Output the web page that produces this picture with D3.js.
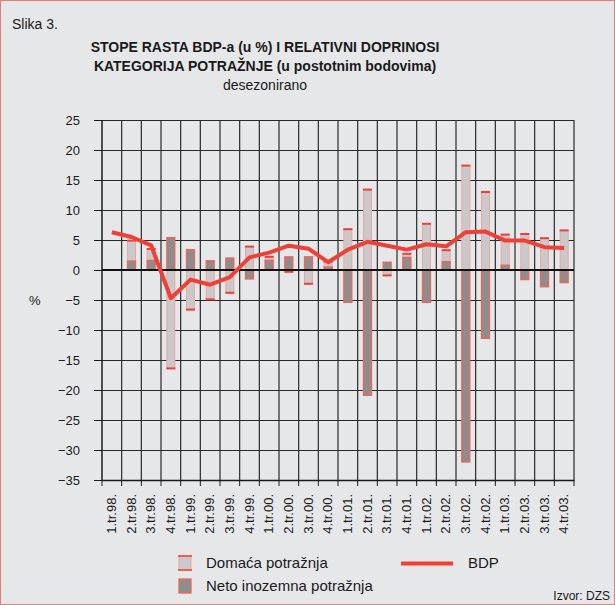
<!DOCTYPE html>
<html>
<head>
<meta charset="utf-8">
<script src="https://cdn.jsdelivr.net/npm/d3@7"></script>
<style>
  body { margin: 0; background: #e6e7e9; }
  svg { display: block; font-family: "Liberation Sans", Arial, sans-serif; }
</style>
</head>
<body>
<div id="chart"></div>
<script>
var quarters = ["1.tr.98.", "2.tr.98.", "3.tr.98.", "4.tr.98.", "1.tr.99.", "2.tr.99.", "3.tr.99.", "4.tr.99.",
  "1.tr.00.", "2.tr.00.", "3.tr.00.", "4.tr.00.", "1.tr.01.", "2.tr.01.", "3.tr.01.", "4.tr.01.",
  "1.tr.02.", "2.tr.02.", "3.tr.02.", "4.tr.02.", "1.tr.03.", "2.tr.03.", "3.tr.03.", "4.tr.03."];
// domaca potraznja (doprinos, p.b.)
var domaca = [null, 4.9, 3.5, -16.4, -6.6, -4.9, -3.8, 3.9, 2.2, -0.3, -2.3, 1.4,
  6.8, 13.4, -0.9, 2.7, 7.7, 3.3, 17.4, 13.0, 5.9, 6.0, 5.3, 6.6];
// neto inozemna potraznja
var neto = [null, 1.5, 1.6, 5.4, 3.4, 1.55, 2.0, -1.5, 1.6, 2.2, 2.2, 0.5,
  -5.4, -20.9, 1.3, 2.1, -5.4, 1.4, -32.0, -11.4, 0.8, -1.6, -2.8, -2.1];
// BDP, stopa rasta (%)
var bdp = [6.3, 5.5, 4.1, -4.7, -1.6, -2.45, -1.2, 2.1, 2.9, 4.05, 3.55, 1.3,
  3.4, 4.7, 4.05, 3.4, 4.3, 3.95, 6.3, 6.4, 4.9, 4.9, 3.8, 3.65];
var yTicks = [25, 20, 15, 10, 5, 0, -5, -10, -15, -20, -25, -30, -35];

var W = 615, H = 605;
var red = "#ee4036", lightFill = "#c9c9cb", darkFill = "#8d8d8d", pink = "#f2a49c";

var svg = d3.select("#chart").append("svg")
  .attr("width", W)
  .attr("height", H);

svg.append("rect")
  .attr("x", 0.5).attr("y", 0.5)
  .attr("width", W - 1).attr("height", H - 1)
  .attr("fill", "#e6e7e9")
  .attr("stroke", "#ea7b72");

var x = d3.scaleBand().domain(quarters).range([102, 574]).padding(0);
var y = d3.scaleLinear().domain([-35, 25]).range([480, 120]);
var bw = 8;

// titles
svg.append("text").attr("x", 12).attr("y", 29)
  .style("font-size", "14px").attr("fill", "#1a1a1a").text("Slika 3.");
var title = svg.append("g").attr("text-anchor", "middle").attr("fill", "#1a1a1a");
title.append("text").attr("x", 265).attr("y", 52)
  .style("font-size", "14px").style("font-weight", "bold")
  .text("STOPE RASTA BDP-a (u %) I RELATIVNI DOPRINOSI");
title.append("text").attr("x", 265).attr("y", 71)
  .style("font-size", "14px").style("font-weight", "bold")
  .text("KATEGORIJA POTRAŽNJE (u postotnim bodovima)");
title.append("text").attr("x", 265).attr("y", 90)
  .style("font-size", "14px")
  .text("desezonirano");

// grid
var grid = svg.append("g").attr("stroke", "#2a2a2a").attr("stroke-width", 1.2);
grid.selectAll("line.h").data(yTicks).enter().append("line")
  .attr("x1", 102).attr("x2", 574)
  .attr("y1", function (d) { return Math.round(y(d)) + 0.5; })
  .attr("y2", function (d) { return Math.round(y(d)) + 0.5; });
grid.selectAll("line.v").data(quarters.slice(1).concat([null])).enter().append("line")
  .attr("x1", function (d, i) { return d ? x(d) : 574; })
  .attr("x2", function (d, i) { return d ? x(d) : 574; })
  .attr("y1", 120).attr("y2", 480);
grid.append("line").attr("x1", 102).attr("x2", 102).attr("y1", 120).attr("y2", 480).attr("stroke-width", 1.6);

// y axis
var yAxis = svg.append("g")
  .attr("transform", "translate(102,0)")
  .call(d3.axisLeft(y).tickValues(yTicks).tickSize(8).tickPadding(14)
    .tickFormat(function (d) { return d < 0 ? "\u2212" + Math.abs(d) : d; }));
yAxis.select(".domain").remove();
yAxis.selectAll("line").attr("stroke", "#1a1a1a");
yAxis.selectAll("text").style("font-size", "13px").attr("fill", "#1a1a1a")
  .attr("font-family", "Liberation Sans, Arial, sans-serif");
svg.append("text").attr("x", 29).attr("y", 305)
  .style("font-size", "13px").attr("fill", "#1a1a1a").text("%");

// x axis
var xAxis = svg.append("g")
  .attr("transform", "translate(0,480)")
  .call(d3.axisBottom(x).tickSize(0).tickPadding(0));
xAxis.select(".domain").attr("stroke", "#1a1a1a").attr("stroke-width", 1.4);
xAxis.selectAll("text")
  .style("font-size", "13px").attr("fill", "#1a1a1a")
  .attr("font-family", "Liberation Sans, Arial, sans-serif")
  .attr("text-anchor", "end")
  .attr("transform", "translate(4,14) rotate(-90)")
  .attr("dy", 0).attr("y", 0).attr("x", 0);
svg.append("g").selectAll("line").data(quarters.concat([null])).enter().append("line")
  .attr("x1", function (d) { return d ? x(d) : 574; })
  .attr("x2", function (d) { return d ? x(d) : 574; })
  .attr("y1", 480).attr("y2", 486)
  .attr("stroke", "#1a1a1a");

// bars: domaca (light), then neto (dark) on top
var bars = svg.append("g");
quarters.forEach(function (q, i) {
  var cx = x(q) + x.bandwidth() / 2;
  var d = domaca[i], n = neto[i];
  if (d !== null) {
    bars.append("rect")
      .attr("x", cx - bw / 2).attr("width", bw)
      .attr("y", Math.min(y(d), y(0))).attr("height", Math.abs(y(d) - y(0)))
      .attr("fill", lightFill).attr("stroke", pink).attr("stroke-width", 1);
    bars.append("line")
      .attr("x1", cx - bw / 2 - 0.5).attr("x2", cx + bw / 2 + 0.5)
      .attr("y1", y(d)).attr("y2", y(d))
      .attr("stroke", red).attr("stroke-width", 2);
  }
  if (n !== null) {
    bars.append("rect")
      .attr("x", cx - bw / 2).attr("width", bw)
      .attr("y", Math.min(y(n), y(0))).attr("height", Math.abs(y(n) - y(0)))
      .attr("fill", darkFill).attr("stroke", "#f0645a").attr("stroke-width", 1.3);
  }
});

// zero line
svg.append("line").attr("x1", 102).attr("x2", 574)
  .attr("y1", y(0)).attr("y2", y(0))
  .attr("stroke", "#111").attr("stroke-width", 2.2);

// BDP line
var line = d3.line()
  .x(function (d, i) { return x(quarters[i]) + x.bandwidth() / 2; })
  .y(function (d) { return y(d); });
svg.append("path").datum(bdp)
  .attr("d", line)
  .attr("fill", "none")
  .attr("stroke", red)
  .attr("stroke-width", 4)
  .attr("stroke-linejoin", "round");

// legend
var lg = svg.append("g").style("font-size", "15px").attr("fill", "#1a1a1a");
lg.append("rect").attr("x", 179).attr("y", 556).attr("width", 12).attr("height", 14)
  .attr("fill", lightFill).attr("stroke", pink);
lg.append("line").attr("x1", 178).attr("x2", 192).attr("y1", 556).attr("y2", 556).attr("stroke", red).attr("stroke-width", 1.5);
lg.append("line").attr("x1", 178).attr("x2", 192).attr("y1", 570).attr("y2", 570).attr("stroke", red).attr("stroke-width", 1.5);
lg.append("text").attr("x", 206).attr("y", 568).text("Domaća potražnja");
lg.append("rect").attr("x", 179).attr("y", 579).attr("width", 12).attr("height", 14)
  .attr("fill", darkFill).attr("stroke", "#f0645a").attr("stroke-width", 1.3);
lg.append("text").attr("x", 206).attr("y", 591).text("Neto inozemna potražnja");
lg.append("line").attr("x1", 401).attr("x2", 453).attr("y1", 563.5).attr("y2", 563.5)
  .attr("stroke", red).attr("stroke-width", 4);
lg.append("text").attr("x", 468).attr("y", 568).text("BDP");

svg.append("text").attr("x", 610).attr("y", 600).attr("text-anchor", "end")
  .style("font-size", "12px").attr("fill", "#1a1a1a").text("Izvor: DZS");
</script>
</body>
</html>
